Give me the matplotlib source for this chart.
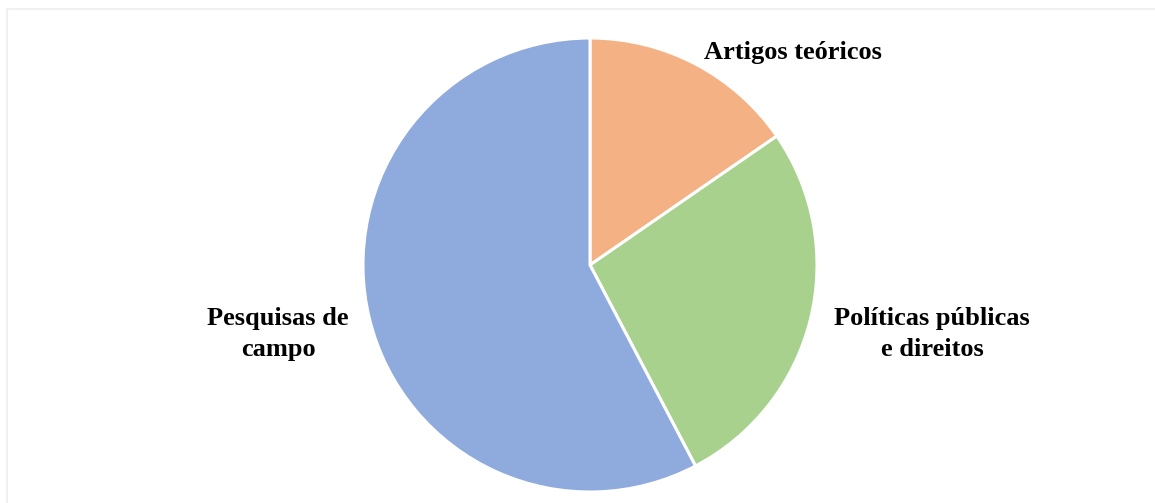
import matplotlib
matplotlib.use("Agg")
import matplotlib.pyplot as plt

categories = ["Artigos teóricos", "Políticas públicas\ne direitos", "Pesquisas de\ncampo"]
values = [4, 7, 15]
colors = ["#F4B183", "#A9D18E", "#8FAADC"]

W, H = 1155, 503
fig = plt.figure(figsize=(W / 100, H / 100), dpi=100)
ax = fig.add_axes([0, 0, 1, 1])
ax.set_xlim(0, W)
ax.set_ylim(0, H)
ax.set_aspect("equal")
ax.axis("off")

# faint frame
ax.plot([6.5, 6.5, 1153.5], [0, H - 9, H - 9], color="#F0F0F0", lw=1.5, zorder=0)

cx, cy, r = 590, H - 265, 227
ax.pie(values, colors=colors, startangle=90, counterclock=False,
       center=(cx, cy), radius=r, frame=True,
       wedgeprops=dict(edgecolor="white", linewidth=2.2))
ax.set_xlim(0, W)
ax.set_ylim(0, H)
ax.axis("off")

label_pos = [(793, 52), (932, 334), (278, 334)]
for lab, (x, y) in zip(categories, label_pos):
    ax.text(x, H - y, lab, ha="center", va="center", family="Liberation Serif",
            fontweight="bold", fontsize=19, linespacing=1.45, color="black")

fig.savefig("out.png", dpi=100)
